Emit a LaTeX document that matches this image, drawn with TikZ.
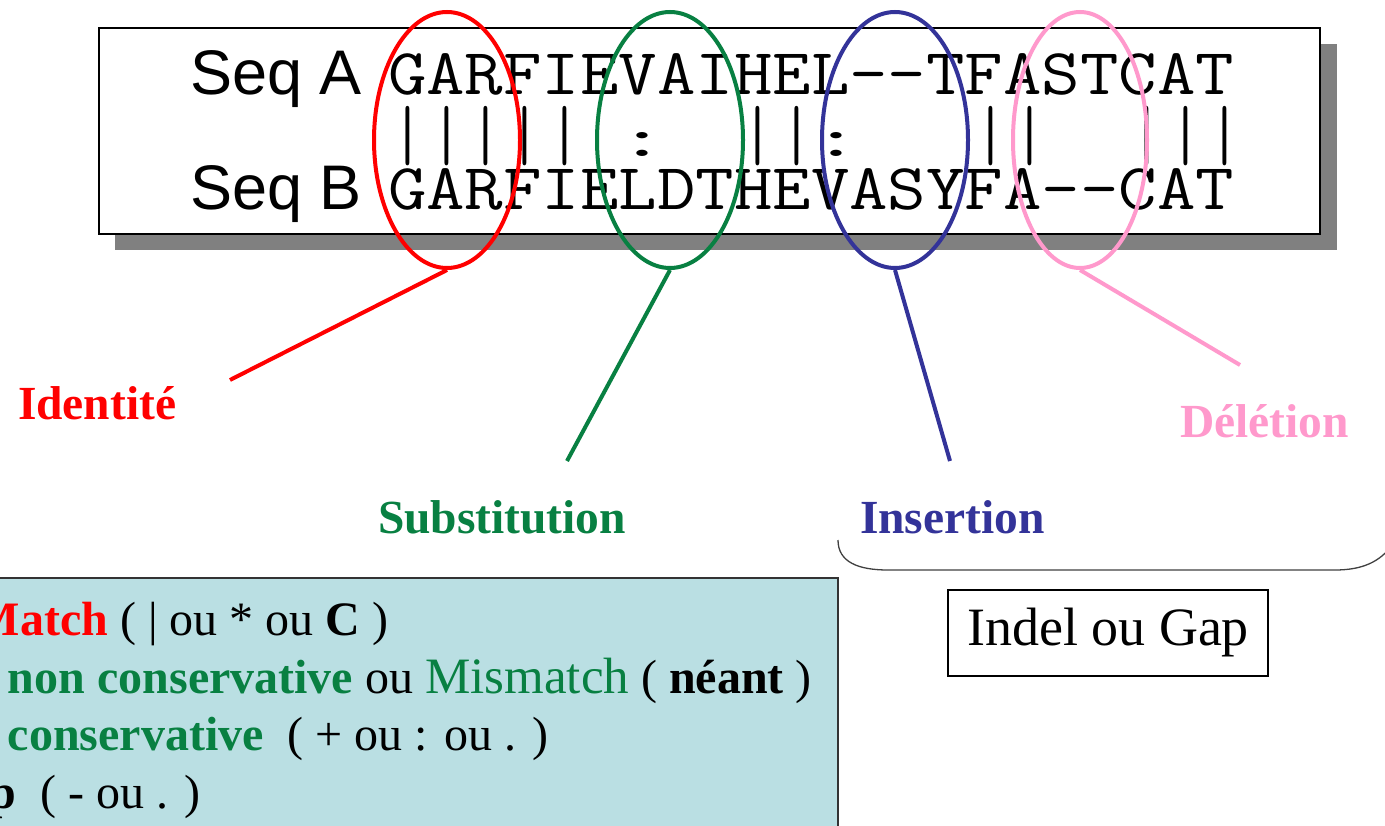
\documentclass[tikz,border=0pt]{standalone}
\usepackage{fontspec}
\usepackage{graphicx}
\setmainfont{Liberation Serif}
\newfontfamily\seqsans{Liberation Sans}
\usetikzlibrary{shapes.geometric}
\definecolor{idred}{RGB}{255,0,0}
\definecolor{subgreen}{RGB}{8,128,66}
\definecolor{insblue}{RGB}{51,51,153}
\definecolor{delpink}{RGB}{255,153,204}
\definecolor{legendfill}{RGB}{186,223,227}
\definecolor{shadowgray}{RGB}{128,128,128}
\newcommand\setsz[1]{\fontsize{#1}{#1}\selectfont}
% typewriter rows, widened so that one column is about 38.4 units
\newcommand\seqtext[1]{\scalebox{1.14}[1]{\ttfamily\setsz{65.5}#1}}
% tall match bar and compact similarity colon for the middle row
\newcommand\seqbar{\makebox[0.525em]{\scalebox{0.8}[1.17]{|}}}
\newcommand\seqcolon{\makebox[0.525em]{\raisebox{3pt}{\scalebox{1.35}[0.85]{:}}}}
\tikzset{
  txt/.style={anchor=base west, inner sep=0pt, outer sep=0pt},
  seqlabel/.style={txt, font=\seqsans\setsz{63}},
  seqrow/.style={txt},
  ring/.style={ellipse, draw, line width=4pt, minimum width=146pt, minimum height=256pt, inner sep=0pt},
  lead/.style={line width=4pt},
  tag/.style={txt, font=\bfseries\setsz{47.5}},
  legend/.style={txt, font=\setsz{48}},
}
\begin{document}
\begin{tikzpicture}[x=1pt,y=-1pt]
\useasboundingbox (0,0) rectangle (1385,826);
\clip (0,0) rectangle (1385,826);

% alignment frame with drop shadow
\fill[shadowgray] (115,44) rectangle (1337,250);
\draw[line width=1.8pt, fill=white] (99,28) rectangle (1320,234);

% sequences
\node[seqlabel] (lblA) at (190,95) {Seq A};
\node[seqlabel] (lblB) at (190,210) {Seq B};
\node[seqrow] (seqA) at (388,95) {\seqtext{GARFIEVAIHEL{-}{-}TFASTCAT}};
\node[seqrow] (cons) at (388,160) {\seqtext{\seqbar\seqbar\seqbar\seqbar\seqbar~\seqcolon~~\seqbar\seqbar\seqcolon~~~\seqbar\seqbar~~\seqbar\seqbar\seqbar}};
\node[seqrow] (seqB) at (388,210) {\seqtext{GARFIELDTHEVASYFA{-}{-}CAT}};

% highlighted columns
\node[ring, draw=idred]    (ringId)  at (447,140) {};
\node[ring, draw=subgreen] (ringSub) at (670,140) {};
\node[ring, draw=insblue]  (ringIns) at (895,140) {};
\node[ring, draw=delpink, minimum width=134pt] (ringDel) at (1080,140) {};

% leader lines
\coordinate (endId)  at (230,380);
\coordinate (endSub) at (567,461);
\coordinate (endIns) at (950,461);
\coordinate (endDel) at (1240,365);
\draw[lead, idred]    (ringId.south)  -- (endId);
\draw[lead, subgreen] (ringSub.south) -- (endSub);
\draw[lead, insblue]  (ringIns.south) -- (endIns);
\draw[lead, delpink]  (ringDel.south) -- (endDel);

% labels
\node[tag, text=idred]    (tId)  at (18,420)   {Identité};
\node[tag, text=subgreen] (tSub) at (378,533)  {Substitution};
\node[tag, text=insblue]  (tIns) at (860,533)  {Insertion};
\node[tag, text=delpink]  (tDel) at (1180,438) {Délétion};

% bracket grouping insertion and deletion
\draw[line width=1.3pt, black!75] (838,540) .. controls (838,562) and (858,570) .. (888,570)
  -- (1335,570) .. controls (1362,570) and (1380,562) .. (1392,545);

% indel box
\node[draw, line width=1.6pt, minimum width=320pt, minimum height=86pt, inner sep=0pt,
      font=\setsz{54}] (indel) at (1108,633) {Indel ou Gap};

% legend box
\draw[line width=1.8pt, black!80, fill=legendfill] (-10,578) rectangle (838,850);
\node[legend] (l1) at (-25,635) {\textbf{\textcolor{idred}{Match}} ( | ou * ou \textbf{C} )};
\node[legend] (l2) at (8,693) {\textbf{\textcolor{subgreen}{non conservative}} ou \textcolor{subgreen}{\setsz{51}Mismatch} ( \textbf{néant} )};
\node[legend] (l3) at (8,750) {\textbf{\textcolor{subgreen}{conservative}}~ ( + ou : ou . )};
\node[legend] (l4) at (-10,808) {\textbf{p}~ ( - ou . )};
\end{tikzpicture}
\end{document}
